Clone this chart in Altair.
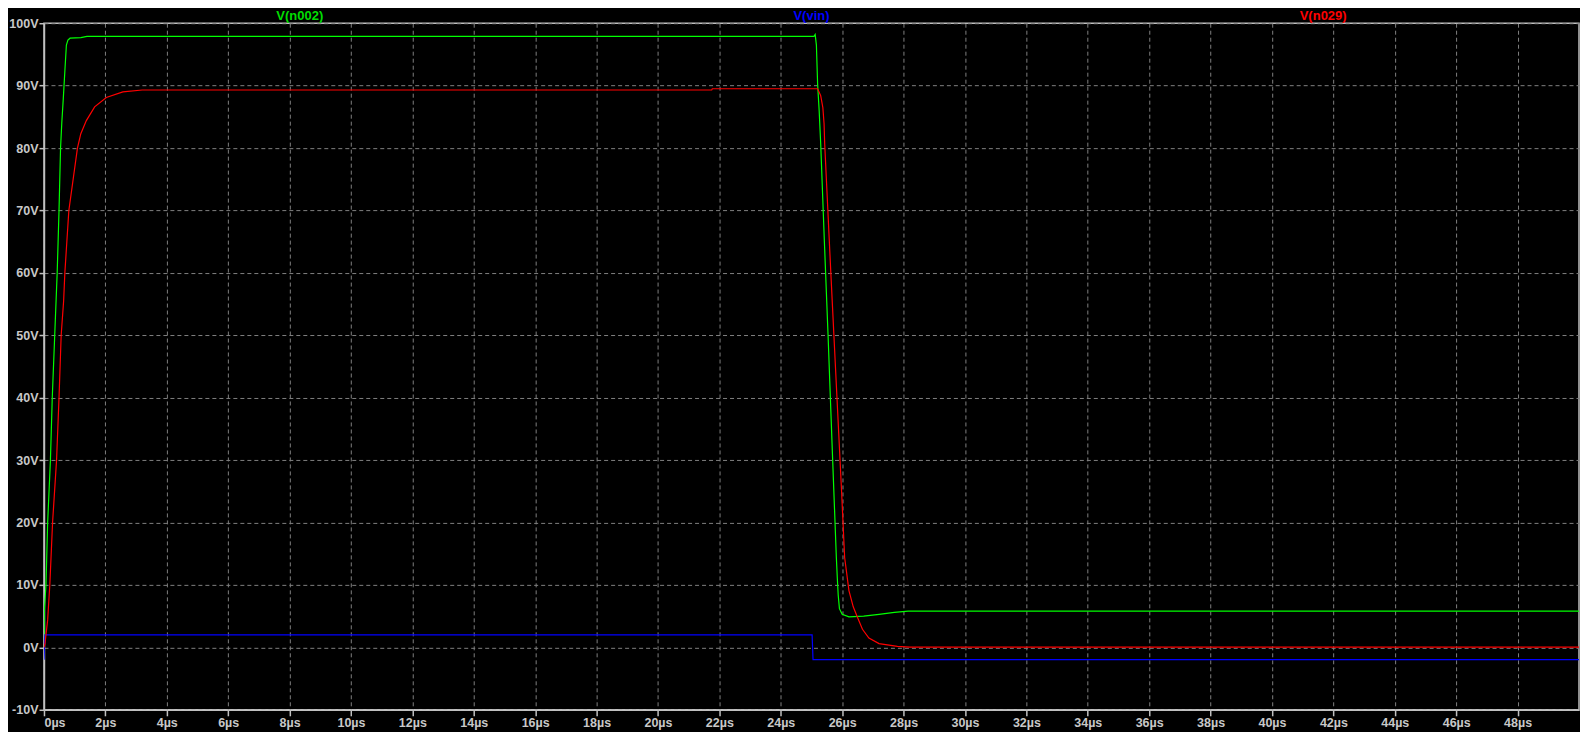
import altair as alt
import pandas as pd

# ---- data (time in µs, voltage in V) ----
t_n002 = [0.0, 0.013, 0.065, 0.12, 0.21, 0.27, 0.35, 0.43, 0.49, 0.54, 0.58, 0.63, 0.68,
          0.73, 0.78, 0.85, 1.2, 1.4, 25.08, 25.12, 25.16, 25.20, 25.25, 25.30, 25.42,
          25.54, 25.69, 25.81, 25.84, 25.87, 25.91, 26.0, 26.22, 26.7, 27.2, 27.7, 28.15, 50.0]
v_n002 = [0.0, 6.0, 10.0, 20.0, 30.0, 40.0, 50.0, 60.0, 70.0, 80.0, 84.0, 88.0, 92.3,
          96.5, 97.3, 97.6, 97.7, 97.9, 97.9, 98.2, 96.5, 90.2, 86.0, 80.7, 65.0,
          50.0, 30.0, 14.4, 11.2, 8.4, 6.2, 5.3, 4.9, 5.0, 5.3, 5.6, 5.8, 5.8]

t_vin = [0.0, 0.03, 25.02, 25.05, 50.0]
v_vin = [-2.0, 2.0, 2.0, -1.95, -1.95]

t_n029 = [0.0, 0.03, 0.065, 0.12, 0.19, 0.28, 0.41, 0.49, 0.56, 0.64, 0.68, 0.81, 1.09,
          1.20, 1.38, 1.65, 2.03, 2.57, 3.2, 21.75, 21.77, 25.2, 25.3, 25.37, 25.41, 25.43,
          25.63, 25.83, 25.98, 26.08, 26.22, 26.36, 26.49, 26.66, 26.87, 27.2, 27.8, 28.2, 50.0]
v_n029 = [0.0, 0.5, 2.0, 4.4, 10.0, 20.0, 30.0, 40.0, 50.0, 55.5, 60.0, 70.0, 80.0,
          82.3, 84.4, 86.6, 88.1, 89.0, 89.3, 89.3, 89.5, 89.5, 88.4, 86.5, 83.9, 80.7,
          60.0, 40.0, 25.0, 14.4, 9.1, 6.5, 4.9, 2.9, 1.5, 0.6, 0.15, 0.05, 0.05]

series_names = ["V(n002)", "V(vin)", "V(n029)"]
series_colors = ["#00ff00", "#0000ff", "#ff0000"]
title_colors = ["#00dd00", "#0000ff", "#ff0000"]

x_ticks = list(range(0, 50, 2))
y_ticks = list(range(-10, 101, 10))

FONT = "Liberation Sans"
AXIS_COLOR = "#c0c0c0"

W = 1536
H = 687

x_scale = alt.Scale(domain=[0, 50], nice=False, zero=False)
y_scale = alt.Scale(domain=[-10, 100], nice=False, zero=False)

x_axis = alt.Axis(values=x_ticks, labelExpr="datum.value + 'µs'", title=None,
                  tickSize=6, labelPadding=1)
y_axis = alt.Axis(values=y_ticks, labelExpr="datum.value + 'V'", title=None,
                  tickSize=5, labelPadding=1)


def line_layer(ts, vs, color):
    df = pd.DataFrame({"t": ts, "v": vs})
    return alt.Chart(df).mark_line(color=color, strokeWidth=1.2, clip=True).encode(
        x=alt.X("t:Q", scale=x_scale, axis=x_axis),
        y=alt.Y("v:Q", scale=y_scale, axis=y_axis),
    )


layers = [
    line_layer(t_n002, v_n002, series_colors[0]),
    line_layer(t_vin, v_vin, series_colors[1]),
    line_layer(t_n029, v_n029, series_colors[2]),
]

# series titles above the plot, at 1/6, 1/2 and 5/6 of the width
fractions = [1 / 6, 1 / 2, 5 / 6]
for name, col, frac in zip(series_names, title_colors, fractions):
    layers.append(
        alt.Chart(pd.DataFrame({"name": [name]})).mark_text(
            font=FONT, fontSize=13, fontWeight="bold", baseline="middle",
            align="center", color=col
        ).encode(
            x=alt.value(W * frac),
            y=alt.value(-7),
            text="name:N",
        )
    )

chart = alt.layer(*layers).properties(
    width=W,
    height=H,
    padding={"left": 36, "top": 15, "right": 1, "bottom": 22},
    autosize=alt.AutoSizeParams(type="none"),
    background="#000000",
).configure_view(
    stroke=AXIS_COLOR, strokeWidth=1.5
).configure_axis(
    domainColor=AXIS_COLOR, domainWidth=1.5,
    tickColor=AXIS_COLOR, tickWidth=1.5,
    gridColor="#808080", gridDash=[4, 3], gridWidth=1, grid=True,
    labelColor="#c8c8c8", labelFont=FONT, labelFontSize=12.5, labelFontWeight="bold",
)

chart.save("out.html", embed_options={"renderer": "svg", "actions": False})
